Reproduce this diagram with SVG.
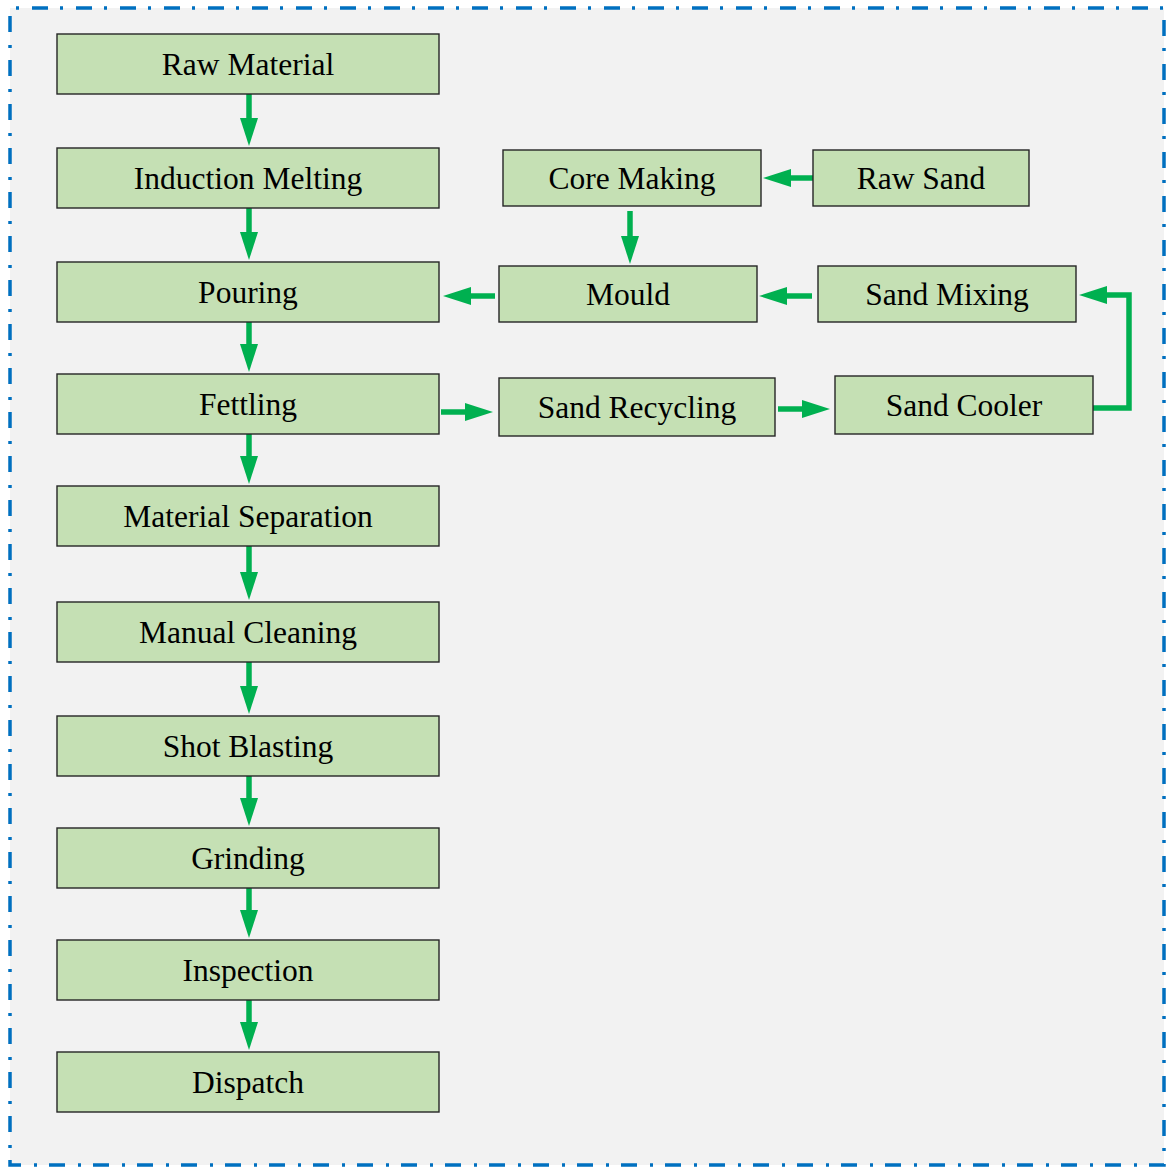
<svg xmlns="http://www.w3.org/2000/svg" width="1166" height="1168" viewBox="0 0 1166 1168">
<style>
.box{fill:#C5E0B4;stroke:#262626;stroke-width:1.4}
.lbl{font-family:"Liberation Serif","Times New Roman",serif;font-size:31.5px;fill:#000;text-anchor:middle}
.c{fill:none;stroke:#00B050;stroke-width:5.5;stroke-linejoin:miter}
</style>
<defs>
<marker id="ah" markerUnits="userSpaceOnUse" markerWidth="30" markerHeight="19" refX="2" refY="9" orient="auto" overflow="visible">
<path d="M0,0 L28,9 L0,18 Z" fill="#00B050"/>
</marker>
</defs>
<rect x="0" y="0" width="1166" height="1168" fill="#FFFFFF"/>
<rect id="frame" x="10" y="8" width="1154" height="1157" fill="#F2F2F2" stroke="#0070C0" stroke-width="3.5" stroke-dasharray="16 12 3 13" stroke-dashoffset="22"/>
<g id="connectors">
<line class="c" x1="249" y1="94" x2="249" y2="120" marker-end="url(#ah)"/>
<line class="c" x1="249" y1="208" x2="249" y2="234" marker-end="url(#ah)"/>
<line class="c" x1="249" y1="322" x2="249" y2="346" marker-end="url(#ah)"/>
<line class="c" x1="249" y1="434" x2="249" y2="458" marker-end="url(#ah)"/>
<line class="c" x1="249" y1="546" x2="249" y2="574" marker-end="url(#ah)"/>
<line class="c" x1="249" y1="662" x2="249" y2="688" marker-end="url(#ah)"/>
<line class="c" x1="249" y1="776" x2="249" y2="800" marker-end="url(#ah)"/>
<line class="c" x1="249" y1="888" x2="249" y2="912" marker-end="url(#ah)"/>
<line class="c" x1="249" y1="1000" x2="249" y2="1024" marker-end="url(#ah)"/>
<line class="c" x1="815" y1="178" x2="789" y2="178" marker-end="url(#ah)"/>
<line class="c" x1="630" y1="211" x2="630" y2="238" marker-end="url(#ah)"/>
<line class="c" x1="812" y1="296" x2="785" y2="296" marker-end="url(#ah)"/>
<line class="c" x1="495" y1="296" x2="469" y2="296" marker-end="url(#ah)"/>
<line class="c" x1="441" y1="412" x2="467" y2="412" marker-end="url(#ah)"/>
<line class="c" x1="778" y1="409" x2="804" y2="409" marker-end="url(#ah)"/>
<polyline class="c" points="1093,408 1129,408 1129,295 1105,295" marker-end="url(#ah)"/>
</g>
<g id="n-raw-material"><rect class="box" x="57" y="34" width="382" height="60"/><text class="lbl" x="248" y="74.5">Raw Material</text></g>
<g id="n-induction-melting"><rect class="box" x="57" y="148" width="382" height="60"/><text class="lbl" x="248" y="188.5">Induction Melting</text></g>
<g id="n-pouring"><rect class="box" x="57" y="262" width="382" height="60"/><text class="lbl" x="248" y="302.5">Pouring</text></g>
<g id="n-fettling"><rect class="box" x="57" y="374" width="382" height="60"/><text class="lbl" x="248" y="414.5">Fettling</text></g>
<g id="n-material-separation"><rect class="box" x="57" y="486" width="382" height="60"/><text class="lbl" x="248" y="526.5">Material Separation</text></g>
<g id="n-manual-cleaning"><rect class="box" x="57" y="602" width="382" height="60"/><text class="lbl" x="248" y="642.5">Manual Cleaning</text></g>
<g id="n-shot-blasting"><rect class="box" x="57" y="716" width="382" height="60"/><text class="lbl" x="248" y="756.5">Shot Blasting</text></g>
<g id="n-grinding"><rect class="box" x="57" y="828" width="382" height="60"/><text class="lbl" x="248" y="868.5">Grinding</text></g>
<g id="n-inspection"><rect class="box" x="57" y="940" width="382" height="60"/><text class="lbl" x="248" y="980.5">Inspection</text></g>
<g id="n-dispatch"><rect class="box" x="57" y="1052" width="382" height="60"/><text class="lbl" x="248" y="1092.5">Dispatch</text></g>
<g id="n-core-making"><rect class="box" x="503" y="150" width="258" height="56"/><text class="lbl" x="632" y="188.5">Core Making</text></g>
<g id="n-raw-sand"><rect class="box" x="813" y="150" width="216" height="56"/><text class="lbl" x="921" y="188.5">Raw Sand</text></g>
<g id="n-mould"><rect class="box" x="499" y="266" width="258" height="56"/><text class="lbl" x="628" y="304.5">Mould</text></g>
<g id="n-sand-mixing"><rect class="box" x="818" y="266" width="258" height="56"/><text class="lbl" x="947" y="304.5">Sand Mixing</text></g>
<g id="n-sand-recycling"><rect class="box" x="499" y="378" width="276" height="58"/><text class="lbl" x="637" y="417.5">Sand Recycling</text></g>
<g id="n-sand-cooler"><rect class="box" x="835" y="376" width="258" height="58"/><text class="lbl" x="964" y="415.5">Sand Cooler</text></g>
</svg>
